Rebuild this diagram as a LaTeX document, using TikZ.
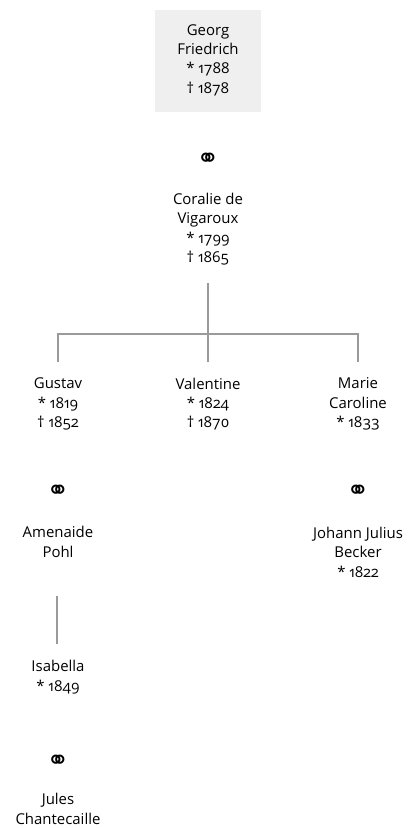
\documentclass[tikz,border=0pt]{standalone}
\usepackage{fontspec}
\setmainfont{Open Sans}[Numbers=OldStyle]
\newfontfamily\symfont{DejaVu Sans}
\definecolor{linegray}{HTML}{9A9A9A}
\definecolor{boxgray}{HTML}{EFEFEF}
\begin{document}
\begin{tikzpicture}[x=1bp,y=-1bp,
  person/.style={align=center,font=\fontsize{15}{19.5}\selectfont,inner sep=0pt},
  marr/.style={font=\symfont\fontsize{27}{29}\selectfont,inner sep=0pt},
  link/.style={draw=linegray,line width=2bp}]
\useasboundingbox (0,0) rectangle (413,828);
\fill[boxgray] (155,10) rectangle (261,112);
\node[person] (georg) at (208,60) {Georg\\Friedrich\\* 1788\\† 1878};
\node[marr] (m1) at (208,160) {⚭};
\node[person] (coralie) at (208,229) {Coralie de\\Vigaroux\\* 1799\\† 1865};
\node[person] (gustav) at (58,404) {Gustav\\* 1819\\† 1852};
\node[person] (valentine) at (208,404) {Valentine\\* 1824\\† 1870};
\node[person] (marie) at (358,404) {Marie\\Caroline\\* 1833};
\node[marr] (m2) at (58,492) {⚭};
\node[marr] (m3) at (358,492) {⚭};
\node[person] (amenaide) at (58,542) {Amenaide\\Pohl};
\node[person] (johann) at (358,552) {Johann Julius\\Becker\\* 1822};
\node[person] (isabella) at (58,677) {Isabella\\* 1849};
\node[marr] (m4) at (58,762) {⚭};
\node[person] (jules) at (58,809) {Jules\\Chantecaille};
\coordinate (ctop) at (208,283);
\coordinate (bar) at (208,334);
\coordinate (gtop) at (58,362);
\coordinate (vtop) at (208,362);
\coordinate (mtop) at (358,362);
\coordinate (atop) at (57,596);
\coordinate (ibot) at (57,644);
\draw[link] (ctop) -- (bar);
\draw[link] (gtop) |- (bar) -| (mtop);
\draw[link] (bar) -- (vtop);
\draw[link] (atop) -- (ibot);
\end{tikzpicture}
\end{document}
